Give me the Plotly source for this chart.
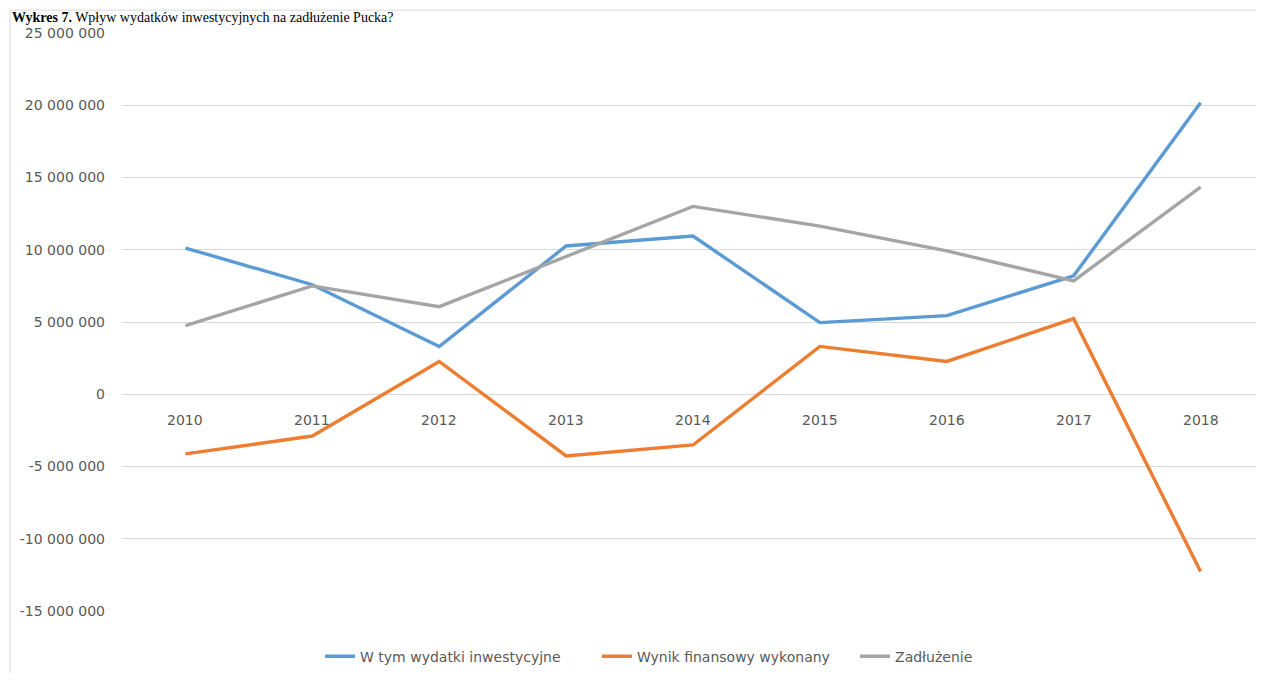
import plotly.graph_objects as go

years = ["2010", "2011", "2012", "2013", "2014", "2015", "2016", "2017", "2018"]
inwestycyjne = [10120000, 7580000, 3300000, 10260000, 10950000, 4960000, 5440000, 8200000, 20180000]
wynik = [-4130000, -2890000, 2270000, -4270000, -3510000, 3310000, 2270000, 5230000, -12260000]
zadluzenie = [4750000, 7500000, 6060000, 9550000, 13000000, 11640000, 9920000, 7850000, 14330000]

series_names = ["W tym wydatki inwestycyjne", "Wynik finansowy wykonany", "Zadłużenie"]
series_colors = ["#5B9BD5", "#ED7D31", "#A5A5A5"]

y_tickvals = [-15000000, -10000000, -5000000, 0, 5000000, 10000000, 15000000, 20000000, 25000000]
y_ticktext = ["-15 000 000", "-10 000 000", "-5 000 000", "0", "5 000 000",
              "10 000 000", "15 000 000", "20 000 000", "25 000 000"]

title_text = "<b>Wykres 7.</b> Wpływ wydatków inwestycyjnych na zadłużenie Pucka?"

FONT = "DejaVu Sans, Open Sans, sans-serif"
GRAY_TXT = "#595959"

legend_ids = ["legend", "legend2", "legend3"]
legend_x = [0.1734, 0.4159, 0.6419]

fig = go.Figure()
for name, vals, col, lid in zip(series_names, [inwestycyjne, wynik, zadluzenie], series_colors, legend_ids):
    fig.add_trace(go.Scatter(
        x=list(range(len(years))), y=vals, name=name, mode="lines",
        line=dict(color=col, width=3.4), legend=lid,
    ))

# category labels next to the zero line (Excel style)
for i, yr in enumerate(years):
    fig.add_annotation(x=i, y=0, xref="x", yref="y", text=yr, showarrow=False,
                       yshift=-26, font=dict(family=FONT, size=14, color=GRAY_TXT))

# caption line above the chart
fig.add_annotation(x=-0.098, y=1.043, xref="paper", yref="paper", text=title_text,
                   showarrow=False, xanchor="left", yanchor="top",
                   font=dict(family="Liberation Serif, Times New Roman, serif", size=14, color="#000000"))

# chart border
fig.add_shape(type="rect", xref="paper", yref="paper", x0=-0.0981, x1=1.2, y0=-0.5, y1=1.0396,
              line=dict(color="#D9D9D9", width=1), fillcolor="rgba(0,0,0,0)", layer="below")

legend_common = dict(orientation="h", xanchor="left", y=-0.079, yanchor="middle",
                     font=dict(family=FONT, size=14, color=GRAY_TXT), itemwidth=30,
                     bgcolor="rgba(0,0,0,0)")

fig.update_layout(
    width=1256, height=665,
    margin=dict(l=114, r=0, t=25, b=59),
    paper_bgcolor="white", plot_bgcolor="white",
    showlegend=True,
    legend=dict(x=legend_x[0], **legend_common),
    legend2=dict(x=legend_x[1], **legend_common),
    legend3=dict(x=legend_x[2], **legend_common),
    xaxis=dict(range=[-0.5, 8.5], showticklabels=False, showgrid=False, zeroline=False,
               showline=False, ticks=""),
    yaxis=dict(range=[-15000000, 25000000], tickvals=y_tickvals, ticktext=y_ticktext,
               showgrid=True, gridcolor="#D9D9D9", gridwidth=1, zeroline=False,
               showline=False, ticks="", ticklabelstandoff=16,
               tickfont=dict(family=FONT, size=14, color=GRAY_TXT)),
)

fig.write_html("out.html")
